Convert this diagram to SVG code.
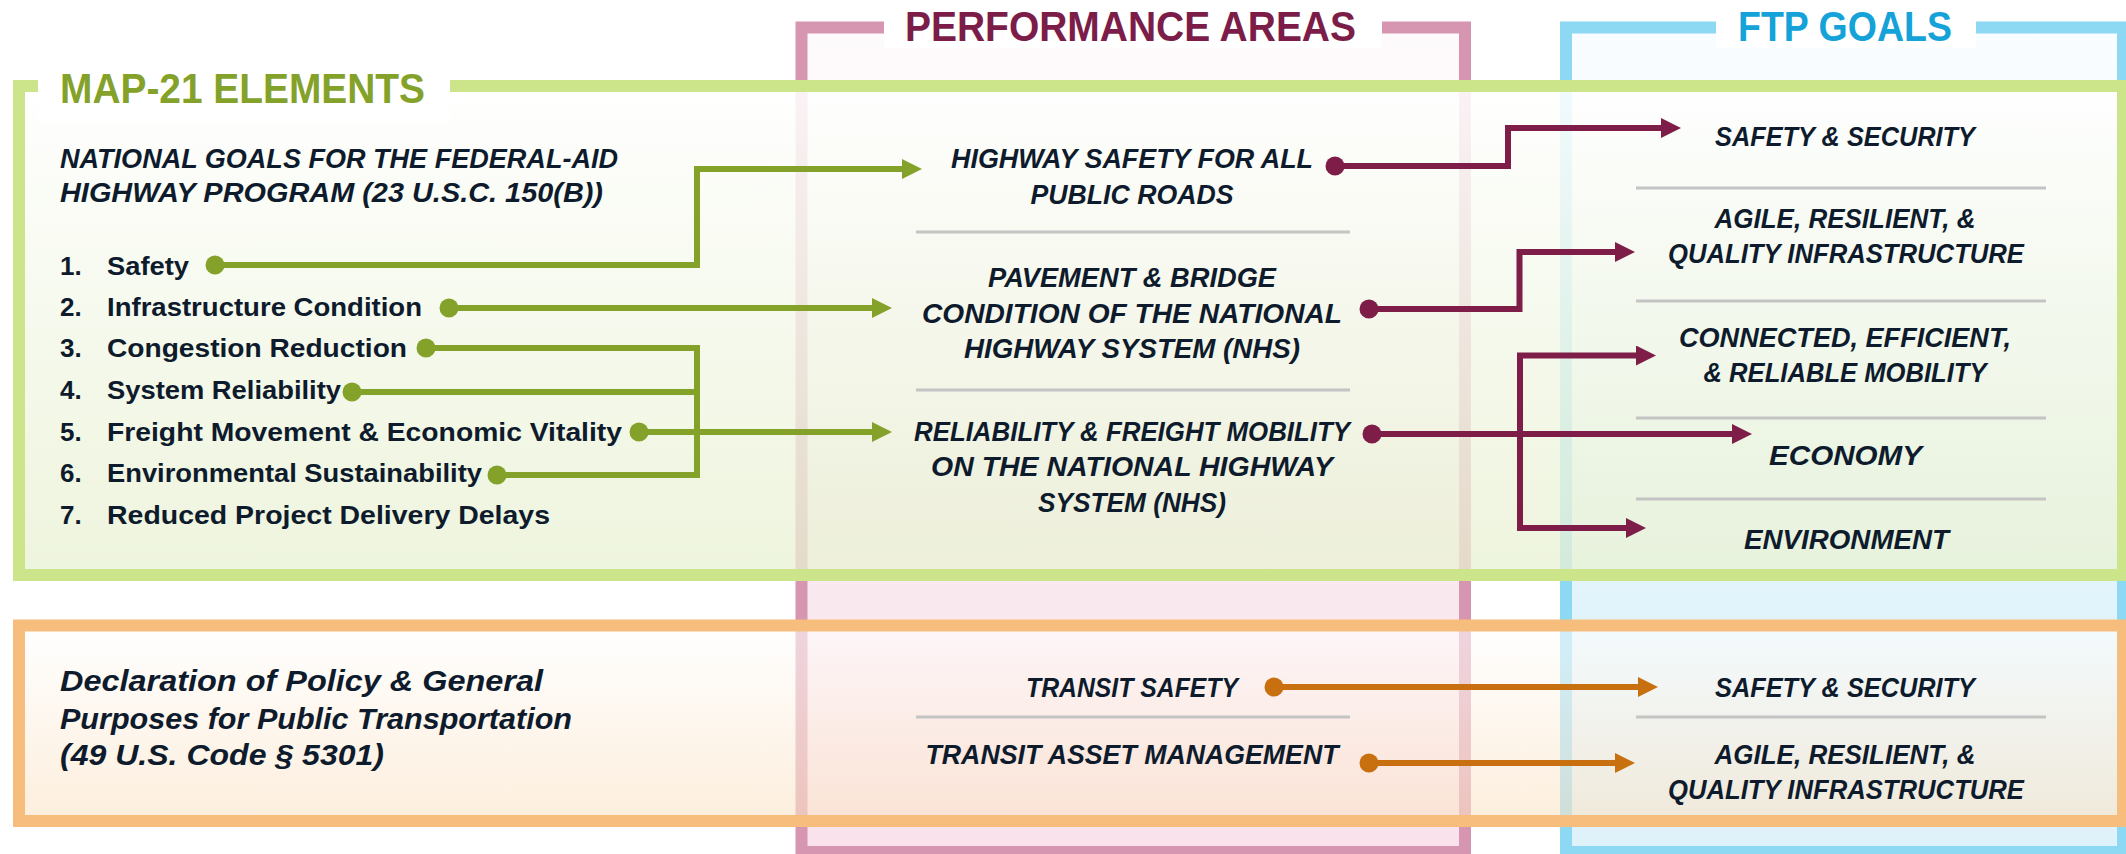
<svg xmlns="http://www.w3.org/2000/svg" width="2126" height="854" viewBox="0 0 2126 854">
<style>
.frame{stroke-width:12;stroke-linejoin:miter}
.title{font-family:"Liberation Sans",Arial,sans-serif;font-weight:bold;font-size:43px}
.t{font-family:"Liberation Sans",Arial,sans-serif;font-weight:bold;font-size:27px;fill:#0e1b2c}
.it{font-style:italic}
.li{font-size:26px}
.dec{font-size:29px}
.mid{text-anchor:middle}
.sep{stroke:#c4c4c4;stroke-width:3}
.cg{fill:none;stroke:#84a22a;stroke-width:6;stroke-linejoin:miter}
.cm{fill:none;stroke:#7d1d48;stroke-width:6;stroke-linejoin:miter}
.co{fill:none;stroke:#c8700f;stroke-width:6;stroke-linejoin:miter}
</style>
<defs>
<linearGradient id="pinkFill" x1="0" y1="0" x2="0" y2="1">
<stop offset="0" stop-color="#fefbfc"/><stop offset="0.7" stop-color="#fae8ef"/><stop offset="1" stop-color="#f9e2eb"/>
</linearGradient>
<linearGradient id="blueFill" x1="0" y1="0" x2="0" y2="1">
<stop offset="0" stop-color="#fafdff"/><stop offset="0.7" stop-color="#e2f4fb"/><stop offset="1" stop-color="#dff2fa"/>
</linearGradient>
<linearGradient id="greenFill" x1="0" y1="0" x2="0" y2="1">
<stop offset="0" stop-color="#ffffff" stop-opacity="0.88"/><stop offset="1" stop-color="#e8f1d2" stop-opacity="0.75"/>
</linearGradient>
<linearGradient id="orangeFill" x1="0" y1="0" x2="0" y2="1">
<stop offset="0" stop-color="#ffffff" stop-opacity="0.6"/><stop offset="1" stop-color="#fbe3c6" stop-opacity="0.6"/>
</linearGradient>
<marker id="ahG" markerUnits="userSpaceOnUse" markerWidth="20" markerHeight="20" viewBox="0 0 20 20" refX="1" refY="10" orient="auto"><path d="M0,0 L20,10 L0,20 z" fill="#84a22a"/></marker>
<marker id="ahM" markerUnits="userSpaceOnUse" markerWidth="20" markerHeight="20" viewBox="0 0 20 20" refX="1" refY="10" orient="auto"><path d="M0,0 L20,10 L0,20 z" fill="#7d1d48"/></marker>
<marker id="ahO" markerUnits="userSpaceOnUse" markerWidth="20" markerHeight="20" viewBox="0 0 20 20" refX="1" refY="10" orient="auto"><path d="M0,0 L20,10 L0,20 z" fill="#c8700f"/></marker>
</defs>
<rect width="2126" height="854" fill="#ffffff"/>

<!-- column frames -->
<g id="performance-areas">
<rect class="frame" x="801.5" y="27.5" width="663.5" height="824.5" fill="url(#pinkFill)" stroke="#d695b0"/>
</g>
<g id="ftp-goals">
<rect class="frame" x="1566" y="27.5" width="557" height="824.5" fill="url(#blueFill)" stroke="#8dd8f3"/>
</g>
<!-- row frames -->
<g id="map21-elements">
<rect class="frame" x="19" y="86" width="2104" height="489" fill="url(#greenFill)" stroke="#cde58a"/>
</g>
<g id="transit-row">
<rect class="frame" x="19" y="625.5" width="2104" height="195.5" fill="url(#orangeFill)" stroke="#f7bd7d"/>
</g>

<!-- title gaps and titles -->
<g id="titles">
<rect x="38" y="60" width="412" height="62" fill="#ffffff"/>
<rect x="884" y="12" width="498" height="36" fill="#ffffff"/>
<rect x="1716" y="12" width="260" height="36" fill="#ffffff"/>
<text class="title" x="60" y="103" fill="#84a22a" textLength="365" lengthAdjust="spacingAndGlyphs">MAP-21 ELEMENTS</text>
<text class="title" x="905" y="41" fill="#7b1d48" textLength="451" lengthAdjust="spacingAndGlyphs">PERFORMANCE AREAS</text>
<text class="title" x="1738" y="41" fill="#14a2d8" textLength="214" lengthAdjust="spacingAndGlyphs">FTP GOALS</text>
</g>

<!-- separators -->
<g id="separators">
<line class="sep" x1="916" y1="232" x2="1350" y2="232"/>
<line class="sep" x1="916" y1="390" x2="1350" y2="390"/>
<line class="sep" x1="916" y1="717" x2="1350" y2="717"/>
<line class="sep" x1="1636" y1="188" x2="2046" y2="188"/>
<line class="sep" x1="1636" y1="301" x2="2046" y2="301"/>
<line class="sep" x1="1636" y1="418" x2="2046" y2="418"/>
<line class="sep" x1="1636" y1="499" x2="2046" y2="499"/>
<line class="sep" x1="1636" y1="717" x2="2046" y2="717"/>
</g>

<!-- MAP-21 texts -->
<g id="national-goals">
<text class="t it" x="60" y="168" textLength="558" lengthAdjust="spacingAndGlyphs">NATIONAL GOALS FOR THE FEDERAL-AID</text>
<text class="t it" x="60" y="202" textLength="543" lengthAdjust="spacingAndGlyphs">HIGHWAY PROGRAM (23 U.S.C. 150(B))</text>
</g>
<g id="goal-list">
<text class="t li" x="60" y="275">1.</text>
<text class="t li" x="107" y="275" textLength="82" lengthAdjust="spacingAndGlyphs">Safety</text>
<text class="t li" x="60" y="316">2.</text>
<text class="t li" x="107" y="316" textLength="315" lengthAdjust="spacingAndGlyphs">Infrastructure Condition</text>
<text class="t li" x="60" y="357">3.</text>
<text class="t li" x="107" y="357" textLength="300" lengthAdjust="spacingAndGlyphs">Congestion Reduction</text>
<text class="t li" x="60" y="399">4.</text>
<text class="t li" x="107" y="399" textLength="234" lengthAdjust="spacingAndGlyphs">System Reliability</text>
<text class="t li" x="60" y="440.5">5.</text>
<text class="t li" x="107" y="440.5" textLength="515" lengthAdjust="spacingAndGlyphs">Freight Movement &amp; Economic Vitality</text>
<text class="t li" x="60" y="482">6.</text>
<text class="t li" x="107" y="482" textLength="375" lengthAdjust="spacingAndGlyphs">Environmental Sustainability</text>
<text class="t li" x="60" y="523.5">7.</text>
<text class="t li" x="107" y="523.5" textLength="443" lengthAdjust="spacingAndGlyphs">Reduced Project Delivery Delays</text>
</g>
<g id="declaration">
<text class="t it dec" x="60" y="691" textLength="483" lengthAdjust="spacingAndGlyphs">Declaration of Policy &amp; General</text>
<text class="t it dec" x="60" y="728.5" textLength="512" lengthAdjust="spacingAndGlyphs">Purposes for Public Transportation</text>
<text class="t it dec" x="60" y="765" textLength="324" lengthAdjust="spacingAndGlyphs">(49 U.S. Code § 5301)</text>
</g>

<!-- Performance area nodes -->
<g id="pa-highway-safety">
<text class="t it mid" x="1132" y="168" textLength="362" lengthAdjust="spacingAndGlyphs">HIGHWAY SAFETY FOR ALL</text>
<text class="t it mid" x="1132" y="204" textLength="203" lengthAdjust="spacingAndGlyphs">PUBLIC ROADS</text>
</g>
<g id="pa-pavement-bridge">
<text class="t it mid" x="1132" y="287" textLength="288" lengthAdjust="spacingAndGlyphs">PAVEMENT &amp; BRIDGE</text>
<text class="t it mid" x="1132" y="322.5" textLength="420" lengthAdjust="spacingAndGlyphs">CONDITION OF THE NATIONAL</text>
<text class="t it mid" x="1132" y="358" textLength="336" lengthAdjust="spacingAndGlyphs">HIGHWAY SYSTEM (NHS)</text>
</g>
<g id="pa-reliability-freight">
<text class="t it mid" x="1132" y="440.5" textLength="436" lengthAdjust="spacingAndGlyphs">RELIABILITY &amp; FREIGHT MOBILITY</text>
<text class="t it mid" x="1132" y="476" textLength="402" lengthAdjust="spacingAndGlyphs">ON THE NATIONAL HIGHWAY</text>
<text class="t it mid" x="1132" y="512" textLength="188" lengthAdjust="spacingAndGlyphs">SYSTEM (NHS)</text>
</g>
<g id="pa-transit-safety">
<text class="t it mid" x="1132" y="697" textLength="212" lengthAdjust="spacingAndGlyphs">TRANSIT SAFETY</text>
</g>
<g id="pa-transit-asset">
<text class="t it mid" x="1132" y="764" textLength="413" lengthAdjust="spacingAndGlyphs">TRANSIT ASSET MANAGEMENT</text>
</g>

<!-- FTP goal nodes -->
<g id="ftp-safety-security">
<text class="t it mid" x="1845" y="146" textLength="260" lengthAdjust="spacingAndGlyphs">SAFETY &amp; SECURITY</text>
</g>
<g id="ftp-agile-resilient">
<text class="t it mid" x="1845" y="228" textLength="261" lengthAdjust="spacingAndGlyphs">AGILE, RESILIENT, &amp;</text>
<text class="t it mid" x="1846" y="263" textLength="356" lengthAdjust="spacingAndGlyphs">QUALITY INFRASTRUCTURE</text>
</g>
<g id="ftp-connected">
<text class="t it mid" x="1845" y="347" textLength="332" lengthAdjust="spacingAndGlyphs">CONNECTED, EFFICIENT,</text>
<text class="t it mid" x="1845" y="382" textLength="283" lengthAdjust="spacingAndGlyphs">&amp; RELIABLE MOBILITY</text>
</g>
<g id="ftp-economy">
<text class="t it mid" x="1845.5" y="465" textLength="153" lengthAdjust="spacingAndGlyphs">ECONOMY</text>
</g>
<g id="ftp-environment">
<text class="t it mid" x="1846.5" y="548.5" textLength="205" lengthAdjust="spacingAndGlyphs">ENVIRONMENT</text>
</g>
<g id="ftp-safety-security-transit">
<text class="t it mid" x="1845" y="697" textLength="260" lengthAdjust="spacingAndGlyphs">SAFETY &amp; SECURITY</text>
</g>
<g id="ftp-agile-resilient-transit">
<text class="t it mid" x="1845" y="763.5" textLength="261" lengthAdjust="spacingAndGlyphs">AGILE, RESILIENT, &amp;</text>
<text class="t it mid" x="1846" y="798.5" textLength="356" lengthAdjust="spacingAndGlyphs">QUALITY INFRASTRUCTURE</text>
</g>

<!-- connectors -->
<g id="connectors">
<g id="green-connectors">
<path class="cg" d="M215,265 H697 V169 H903" marker-end="url(#ahG)"/>
<path class="cg" d="M449,308 H873" marker-end="url(#ahG)"/>
<path class="cg" d="M639,432 H873" marker-end="url(#ahG)"/>
<path class="cg" d="M426,348 H697 V475 H497 M352,392 H697"/>
<g fill="#84a22a">
<circle cx="215" cy="265" r="9.5"/>
<circle cx="449" cy="308" r="9.5"/>
<circle cx="426" cy="348" r="9.5"/>
<circle cx="352" cy="392" r="9.5"/>
<circle cx="639" cy="432" r="9.5"/>
<circle cx="497" cy="475" r="9.5"/>
</g>
</g>
<g id="maroon-connectors">
<path class="cm" d="M1335,166 H1508 V128 H1662" marker-end="url(#ahM)"/>
<path class="cm" d="M1369,309 H1519.5 V252 H1616" marker-end="url(#ahM)"/>
<path class="cm" d="M1372,434 H1733" marker-end="url(#ahM)"/>
<path class="cm" d="M1520,434 V355.5 H1637" marker-end="url(#ahM)"/>
<path class="cm" d="M1520,434 V528 H1627" marker-end="url(#ahM)"/>
<g fill="#7d1d48">
<circle cx="1335" cy="166" r="9.5"/>
<circle cx="1369" cy="309" r="9.5"/>
<circle cx="1372" cy="434" r="9.5"/>
</g>
</g>
<g id="orange-connectors">
<path class="co" d="M1274,687 H1639" marker-end="url(#ahO)"/>
<path class="co" d="M1369,763 H1616" marker-end="url(#ahO)"/>
<g fill="#c8700f">
<circle cx="1274" cy="687" r="9.5"/>
<circle cx="1369" cy="763" r="9.5"/>
</g>
</g>
</g>
</svg>
